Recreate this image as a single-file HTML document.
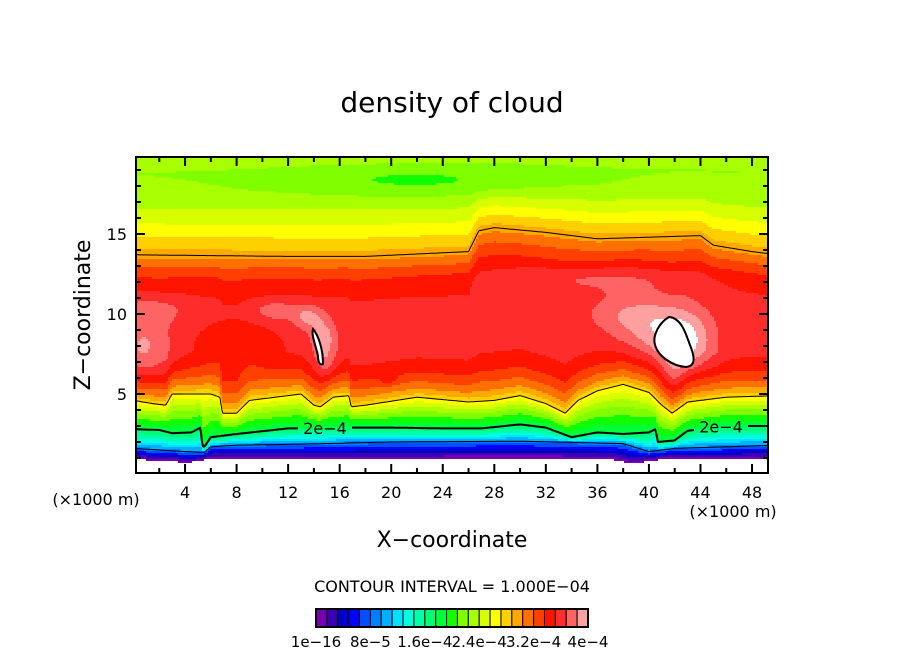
<!DOCTYPE html>
<html><head><meta charset="utf-8">
<style>
html,body{margin:0;padding:0;background:#fff;}
svg text{font-family:"DejaVu Sans","Liberation Sans",sans-serif;fill:#000;}
</style></head>
<body>
<svg id="chart" width="904" height="654" viewBox="0 0 904 654" xmlns="http://www.w3.org/2000/svg">
<rect x="0" y="0" width="904" height="654" fill="#fff"/>
<text x="452" y="112" font-size="28" text-anchor="middle">density of cloud</text>
<g id="field"></g>
<g id="lines"></g>
<g id="axes"></g>
<text x="90" y="315" font-size="22" text-anchor="middle" transform="rotate(-90 90 315)">Z−coordinate</text>
<text x="452" y="547" font-size="22" text-anchor="middle">X−coordinate</text>
<text x="96" y="505" font-size="16" text-anchor="middle">(×1000 m)</text>
<text x="733" y="517" font-size="16" text-anchor="middle">(×1000 m)</text>
<text x="452" y="592" font-size="16" text-anchor="middle">CONTOUR INTERVAL = 1.000E−04</text>
<g id="cbar"></g>
</svg>
<script>
// ---- data ----
const colors = ['#7800b0','#3c00b4','#0000c8','#0000ff','#0050ff','#0080ff','#00b0ff','#00e0ff','#00ffe0','#00ffa8','#00ff70','#00ff38','#10ff00','#80ff00','#a8ff00','#d8ff00','#ffff00','#ffd000','#ffa800','#ff7000','#ff4000','#ff1400','#ff2c2c','#ff6464','#ffa0a0'];
const cbarLabels = ['1e-16','8e-5','1.6e-4','2.4e-4','3.2e-4','4e-4'];
const xTickLabels = [4,8,12,16,20,24,28,32,36,40,44,48];
const zTickLabels = [5,10,15];
// canonical vertical profile (z -> colour index)
const profZ = [0,0.85,0.9,1.2,1.55,2.0,2.6,3.2,3.8,4.3,4.75,5.1,5.5,6.0,6.6,7.5,10.5,11.8,12.6,13.2,13.7,14.3,15.0,15.8,16.8,17.8,18.8,19.8,20];
const profI = [-3,-0.2,0.3,2.5,5.5,8.5,11,12.5,14,15.5,17,18.5,19.5,20.5,21.5,22.3,22.3,21.6,20.6,19.6,18.6,17.6,16.8,15.8,14.8,14.2,14.0,14.6,14.8];
// cloud base
const h1X = [0,3,4,5,6,10,20,30,37,38.5,39.5,41,50];
const h1Z = [0.95,0.8,0.75,0.8,1.0,0.95,0.95,1.0,0.95,0.7,0.75,0.95,1.0];
// 1e-4 contour
const hbX = [0,4,5.5,6,8,12,20,30,38,40,42,50];
const hbZ = [1.6,1.4,1.35,1.7,1.8,1.85,2.0,2.05,1.9,1.4,1.6,1.8];
// 2e-4 contour
const h2X = [0,2,3,4.5,5.2,5.35,5.5,6,8,12,14,17,20,24,27,30,32,34,36,38,40,40.5,40.7,42,43,46,50];
const h2Z = [2.8,2.75,2.55,2.6,2.9,1.75,1.7,2.3,2.5,2.85,2.85,2.9,2.9,2.85,2.85,3.1,2.9,2.3,2.6,2.5,2.6,2.8,2.0,2.1,2.7,3.0,3.0];
// 3e-4 lower contour
const h3X = [0,1.5,2.5,3,6,6.7,6.9,8,9,13,14,14.5,15.5,16.7,16.9,18,22,26,28,30,32,33.5,34.5,36,38,40,41,41.8,43,46,50];
const h3Z = [4.6,4.4,4.3,5.0,5.0,4.8,3.8,3.8,4.6,5.0,4.3,4.2,4.8,4.9,4.2,4.3,4.8,4.5,4.6,4.9,4.4,3.8,4.6,5.2,5.6,5.1,4.3,3.8,4.5,4.8,4.9];
// upper contour
const h4X = [0,12,18,26,26.8,28,32,36,44,45,48,50];
const h4Z = [13.7,13.6,13.6,13.9,15.2,15.4,15.1,14.7,14.9,14.3,13.9,13.7];
// local anomalies: x, z, width, height, amplitude
const bumpX = [0.8,1.5,11,13.5,14.8,15.0,38,41,43,42,19.8,36,22,8,28];
const bumpZ = [8,10.2,10.2,9.8,8.5,6.8,10,9,8,6,5.9,12.2,18.3,7.5,8.5];
const bumpW = [2.2,2.5,1.5,1.2,1.0,0.8,3,3,2,1,0.6,8,11,3.5,9];
const bumpH = [2.2,0.8,0.6,0.8,1.2,1.0,1.2,1.8,2,1.5,0.3,0.8,1.0,2,2.2];
const bumpA = [1.8,1,1.5,2,2.2,1.2,1.3,2.2,2.2,1.0,1.2,1.2,-1.2,-1.0,-0.1];

// ---- axes ----
const X0 = 133.5, SX = 12.886, L = 136, R = 768, T = 157, B = 473;
const px = x => X0 + SX * x;
const py = z => 474 - 16 * z;
function interp(xs, ys, x) {
  if (x <= xs[0]) return ys[0];
  for (let i = 1; i < xs.length; i++) {
    if (x <= xs[i]) { const t = (x - xs[i-1]) / (xs[i] - xs[i-1]); return ys[i-1] + t * (ys[i] - ys[i-1]); }
  }
  return ys[ys.length - 1];
}
function fieldIdx(x, z) {
  const real = [0, interp(h1X,h1Z,x), interp(hbX,hbZ,x), interp(h2X,h2Z,x), interp(h3X,h3Z,x), interp(h4X,h4Z,x), 20];
  const canon = [0, 0.9, 1.55, 2.6, 4.75, 13.7, 20];
  const zc = interp(real, canon, z);
  let v = interp(profZ, profI, zc);
  if (zc > 3) for (let k = 0; k < bumpX.length; k++) {
    const dx = (x - bumpX[k]) / bumpW[k], dz = (z - bumpZ[k]) / bumpH[k];
    v += bumpA[k] * Math.exp(-(dx*dx + dz*dz));
  }
  return v;
}
const NS = 'http://www.w3.org/2000/svg';
function mk(tag, attrs, parent) {
  const e = document.createElementNS(NS, tag);
  for (const k in attrs) e.setAttribute(k, attrs[k]);
  parent.appendChild(e);
  return e;
}
// ---- field ----
const field = document.getElementById('field');
const C = 2;
for (let yy = T; yy < B; yy += C) {
  let runStart = L, runCol = null;
  const flush = (end) => {
    if (runCol) {
      const r = mk('rect', {x: runStart, y: yy, width: end - runStart, height: C, fill: runCol}, field);
      
      
    }
  };
  for (let xx = L; xx < R; xx += C) {
    const x = (xx + 1 - X0) / SX, z = (474 - (yy + 1)) / 16;
    const v = fieldIdx(x, z);
    let col = null;
    if (v >= 0 && v < colors.length) col = colors[Math.floor(v)];
    else if (v >= colors.length) col = '#ffffff';
    if (col !== runCol) { flush(xx); runStart = xx; runCol = col; }
  }
  flush(R);
}
// ---- contour lines ----
const lines = document.getElementById('lines');
function drawLine(xs, zs, w, name, gaps) {
  let d = '', pen = false;
  for (let xx = L; xx <= R; xx += 1) {
    const x = (xx - X0) / SX;
    const inGap = gaps.some(g => xx > g[0] && xx < g[1]);
    if (inGap) { pen = false; continue; }
    const y = py(interp(xs, zs, x));
    d += (pen ? 'L' : 'M') + xx + ' ' + y.toFixed(1);
    pen = true;
  }
  const p = mk('path', {d: d, fill: 'none', stroke: '#000', 'stroke-width': w}, lines);
  
  
}
drawLine(hbX, hbZ, 1, 'contour-1e-4', []);
drawLine(h2X, h2Z, 2, 'contour-2e-4', [[298,352],[694,748]]);
drawLine(h3X, h3Z, 1, 'contour-3e-4-lower', []);
drawLine(h4X, h4Z, 1, 'contour-3e-4-upper', []);
[[325,'contour-label-left'],[721,'contour-label-right']].forEach(([cx, nm]) => {
  const x = (cx - X0) / SX;
  const t = mk('text', {x: cx, y: py(interp(h2X,h2Z,x)) + 6, 'font-size': 16, 'text-anchor': 'middle'}, lines);
  t.textContent = '2e−4';
  
  
});
// white maxima blobs
const blob = mk('path', {d: 'M669 317 C660 322 652 335 655 345 C658 356 672 366 686 367 C697 366 694 355 690 345 C686 335 682 318 669 317 Z', fill: '#fff', stroke: '#000', 'stroke-width': 2}, lines);


const sliver = mk('path', {d: 'M313 329 C318 335 323 348 323 364 C320 366 318 362 318 356 C316 346 311 335 313 329 Z', fill: '#fff', stroke: '#000', 'stroke-width': 2}, lines);


// ---- axes ----
const axes = document.getElementById('axes');
const frame = mk('rect', {x: L, y: T, width: R - L, height: B - T, fill: 'none', stroke: '#000', 'stroke-width': 2}, axes);


let td = '';
for (let x = 2; x <= 48; x += 2) {
  const X = px(x), len = (x % 4 === 0) ? 9 : 5;
  td += `M${X} ${B}V${B - len}M${X} ${T}V${T + len}`;
}
for (let z = 1; z <= 19; z++) {
  const Y = py(z), len = (z % 5 === 0) ? 9 : 5;
  td += `M${L} ${Y}H${L + len}M${R} ${Y}H${R - len}`;
}
const ticks = mk('path', {d: td, stroke: '#000', 'stroke-width': 2, fill: 'none'}, axes);


xTickLabels.forEach(v => {
  const t = mk('text', {x: px(v), y: 498, 'font-size': 16, 'text-anchor': 'middle'}, axes);
  t.textContent = v;
  
  
});
zTickLabels.forEach(v => {
  const t = mk('text', {x: 127, y: py(v) + 6, 'font-size': 16, 'text-anchor': 'end'}, axes);
  t.textContent = v;
  
  
});
// ---- colorbar ----
const cbar = document.getElementById('cbar');
const CB0 = 316, CB1 = 588, bw = (CB1 - CB0) / colors.length;
colors.forEach((c, i) => {
  const r = mk('rect', {x: CB0 + i * bw, y: 609, width: bw, height: 18, fill: c, stroke: '#000', 'stroke-width': 1}, cbar);
  
  
});
const cbf = mk('rect', {x: CB0, y: 609, width: CB1 - CB0, height: 18, fill: 'none', stroke: '#000', 'stroke-width': 2}, cbar);


cbarLabels.forEach((s, k) => {
  const t = mk('text', {x: CB0 + k * (CB1 - CB0) / (cbarLabels.length - 1), y: 647, 'font-size': 15, 'text-anchor': 'middle'}, cbar);
  t.textContent = s.replace(/-/g, '−');
  
  
});
</script>
</body></html>
